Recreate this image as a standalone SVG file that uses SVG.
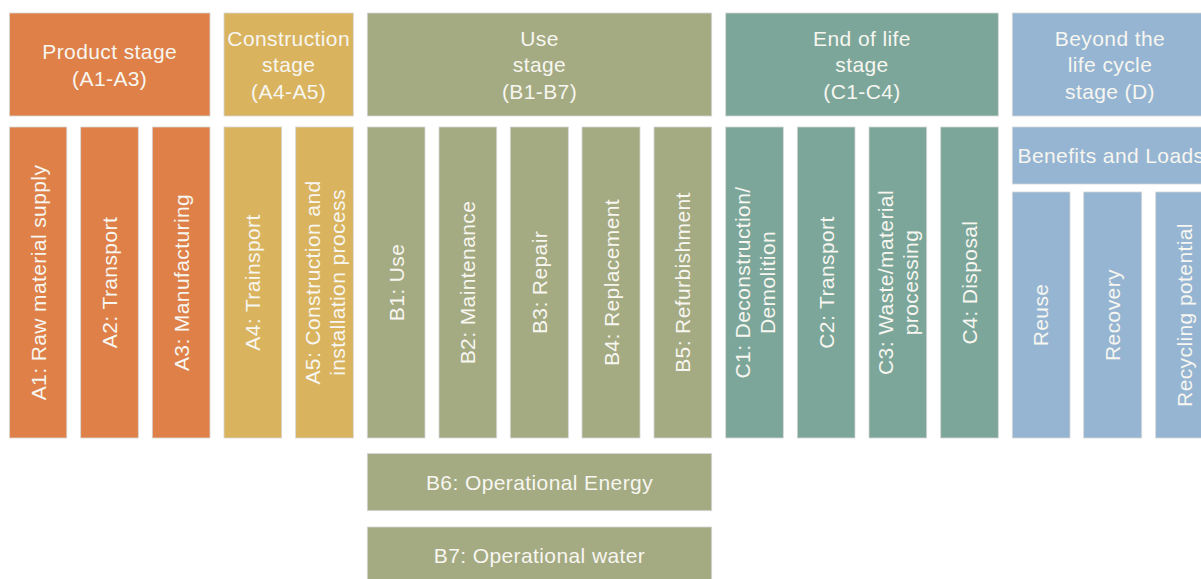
<svg xmlns="http://www.w3.org/2000/svg" width="1201" height="579" viewBox="0 0 1201 579">
<style>
.o,.y,.g,.t,.b{stroke:#d6d6d6;stroke-width:0.8}
.o{fill:#DE8048}.y{fill:#D9B35E}.g{fill:#A4AA82}.t{fill:#7CA69A}.b{fill:#95B5D2}
text{font-family:"Liberation Sans",Arial,sans-serif;font-size:21px;letter-spacing:0.4px;fill:#F7F6F0;text-anchor:middle}
</style>
<rect width="1201" height="579" fill="#ffffff"/>
<g id="product-stage"><rect class="o" x="9.5" y="13" width="200.5" height="103"/><text x="109.7" y="59">Product stage</text><text x="109.7" y="85.5">(A1-A3)</text></g>
<g id="construction-stage"><rect class="y" x="224" y="13" width="129.3" height="103"/><text x="288.7" y="45.5">Construction</text><text x="288.7" y="72">stage</text><text x="288.7" y="98.5">(A4-A5)</text></g>
<g id="use-stage"><rect class="g" x="367.3" y="13" width="344.4" height="103"/><text x="539.5" y="45.5">Use</text><text x="539.5" y="72">stage</text><text x="539.5" y="98.5">(B1-B7)</text></g>
<g id="end-of-life-stage"><rect class="t" x="725.7" y="13" width="272.6" height="103"/><text x="862" y="45.5">End of life</text><text x="862" y="72">stage</text><text x="862" y="98.5">(C1-C4)</text></g>
<g id="beyond-stage"><rect class="b" x="1012.3" y="13" width="201" height="103"/><text x="1110" y="45.5">Beyond the</text><text x="1110" y="72">life cycle</text><text x="1110" y="98.5">stage (D)</text></g>

<g id="A1"><rect class="o" x="9.5" y="127" width="57.3" height="311"/><text transform="translate(45.6,282.5) rotate(-90)">A1: Raw material supply</text></g>
<g id="A2"><rect class="o" x="80.7" y="127" width="57.6" height="311"/><text transform="translate(117,282.5) rotate(-90)">A2: Transport</text></g>
<g id="A3"><rect class="o" x="152.3" y="127" width="57.7" height="311"/><text transform="translate(188.6,282.5) rotate(-90)">A3: Manufacturing</text></g>
<g id="A4"><rect class="y" x="224" y="127" width="57.7" height="311"/><text transform="translate(260.4,282.5) rotate(-90)">A4: Trainsport</text></g>
<g id="A5"><rect class="y" x="295.7" y="127" width="57.6" height="311"/><text transform="translate(332,282.5) rotate(-90)"><tspan x="0" y="-12.5">A5: Construction and</tspan><tspan x="0" y="12.5">installation process</tspan></text></g>
<g id="B1"><rect class="g" x="367.3" y="127" width="57.7" height="311"/><text transform="translate(403.7,282.5) rotate(-90)">B1: Use</text></g>
<g id="B2"><rect class="g" x="439" y="127" width="57.7" height="311"/><text transform="translate(475.4,282.5) rotate(-90)">B2: Maintenance</text></g>
<g id="B3"><rect class="g" x="510.3" y="127" width="58" height="311"/><text transform="translate(546.8,282.5) rotate(-90)">B3: Repair</text></g>
<g id="B4"><rect class="g" x="582" y="127" width="58" height="311"/><text transform="translate(618.5,282.5) rotate(-90)">B4: Replacement</text></g>
<g id="B5"><rect class="g" x="654" y="127" width="57.7" height="311"/><text transform="translate(690.4,282.5) rotate(-90)">B5: Refurbishment</text></g>
<g id="C1"><rect class="t" x="725.7" y="127" width="57.6" height="311"/><text transform="translate(762,282.5) rotate(-90)"><tspan x="0" y="-12.5">C1: Deconstruction/</tspan><tspan x="0" y="12.5">Demolition</tspan></text></g>
<g id="C2"><rect class="t" x="797.3" y="127" width="57.7" height="311"/><text transform="translate(833.6,282.5) rotate(-90)">C2: Transport</text></g>
<g id="C3"><rect class="t" x="869" y="127" width="57.7" height="311"/><text transform="translate(905.4,282.5) rotate(-90)"><tspan x="0" y="-12.5">C3: Waste/material</tspan><tspan x="0" y="12.5">processing</tspan></text></g>
<g id="C4"><rect class="t" x="940.7" y="127" width="57.6" height="311"/><text transform="translate(977,282.5) rotate(-90)">C4: Disposal</text></g>
<g id="benefits"><rect class="b" x="1012.3" y="127" width="201" height="57"/><text x="1111" y="163">Benefits and Loads</text></g>
<g id="reuse"><rect class="b" x="1012.3" y="192" width="57.7" height="246"/><text transform="translate(1048.4,315) rotate(-90)">Reuse</text></g>
<g id="recovery"><rect class="b" x="1083.7" y="192" width="58" height="246"/><text transform="translate(1120.2,315) rotate(-90)">Recovery</text></g>
<g id="recycling"><rect class="b" x="1155.7" y="192" width="57.7" height="246"/><text transform="translate(1191.8,315) rotate(-90)">Recycling potential</text></g>
<g id="B6"><rect class="g" x="367.3" y="453.5" width="344.4" height="57.2"/><text x="539.5" y="490">B6: Operational Energy</text></g>
<g id="B7"><rect class="g" x="367.3" y="527" width="344.4" height="57"/><text x="539.5" y="562.7">B7: Operational water</text></g>
<g id="connectors"></g>
</svg>
